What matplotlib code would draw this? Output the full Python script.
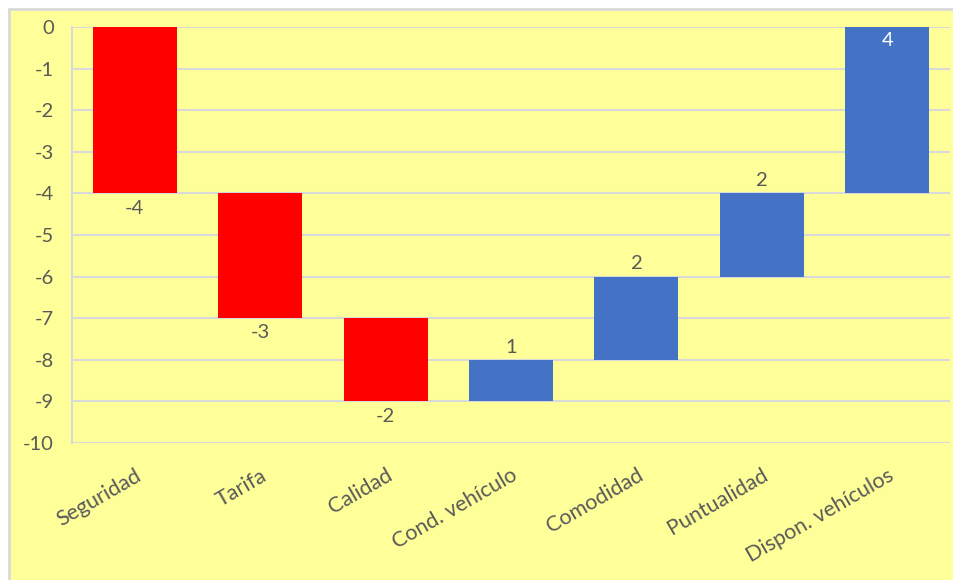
import matplotlib
matplotlib.use("Agg")
import matplotlib.pyplot as plt
import matplotlib.patches as mpatches
import numpy as np

categories = ["Seguridad", "Tarifa", "Calidad", "Cond. vehículo", "Comodidad",
              "Puntualidad", "Dispon. vehículos"]
deltas = [-4, -3, -2, 1, 2, 2, 4]
yticks = list(range(0, -11, -1))

plt.rcParams['font.family'] = ['Lato', 'DejaVu Sans']
txt = "#595959"
bg = "#FFFF99"
fs = 14.5

fig = plt.figure(figsize=(9.54, 5.8), dpi=100)
fig.patch.set_facecolor("white")
fig.patches.append(mpatches.Rectangle((9/954, -0.05), 1.2, 1 - 9/580 + 0.05,
                                      transform=fig.transFigure, facecolor=bg,
                                      edgecolor="#D9D9D9", linewidth=2, zorder=-10))
ax = fig.add_axes([72/954, 1 - 443/580, (950 - 72)/954, (443 - 27)/580])
ax.set_facecolor(bg)

d = np.array(deltas, dtype=float)
ends = np.cumsum(d)
starts = ends - d
bottoms = np.minimum(starts, ends)
heights = np.abs(d)
colors = ["#FF0000" if v < 0 else "#4472C4" for v in d]
x = np.arange(len(categories))
ax.bar(x, heights, bottom=bottoms, width=0.67, color=colors, zorder=3)

for i, v in enumerate(d):
    lab = f"{int(v)}"
    if i == len(d) - 1:
        ax.text(x[i], max(starts[i], ends[i]) - 0.12, lab, ha="center", va="top",
                color="white", fontsize=fs, zorder=4)
    elif v < 0:
        ax.text(x[i], bottoms[i] - 0.15, lab, ha="center", va="top",
                color=txt, fontsize=fs, zorder=4)
    else:
        ax.text(x[i], bottoms[i] + heights[i] + 0.1, lab, ha="center", va="bottom",
                color=txt, fontsize=fs, zorder=4)

ax.set_xlim(-0.5, len(categories) - 0.5)
ax.set_ylim(-10, 0)
ax.set_yticks(yticks)
ax.set_yticklabels([str(t) for t in yticks])
ax.yaxis.grid(True, color="#D9D9D9", linewidth=1.5, zorder=0)
ax.set_axisbelow(True)
for s in ["top", "right", "bottom"]:
    ax.spines[s].set_visible(False)
ax.spines["left"].set_color("#D9D9D9")
ax.spines["left"].set_linewidth(1.5)
ax.tick_params(axis="y", length=0, pad=13, labelsize=fs, labelcolor=txt)
ax.tick_params(axis="x", length=0, pad=16, labelsize=15.5, labelcolor=txt)
ax.set_xticks(x)
ax.set_xticklabels(categories, rotation=30, ha="right", rotation_mode="anchor")

fig.savefig("out.png", dpi=100)
